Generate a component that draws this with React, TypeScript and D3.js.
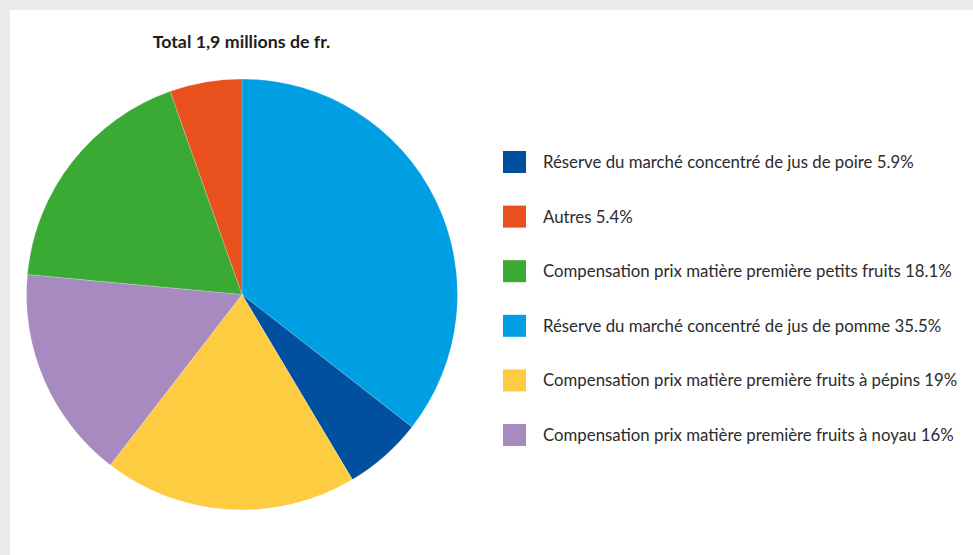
import React from "react";
import * as d3 from "d3";

const labels = [
  "Réserve du marché concentré de jus de poire 5.9%",
  "Autres 5.4%",
  "Compensation prix matière première petits fruits 18.1%",
  "Réserve du marché concentré de jus de pomme 35.5%",
  "Compensation prix matière première fruits à pépins 19%",
  "Compensation prix matière première fruits à noyau 16%",
];
const values = [5.9, 5.4, 18.1, 35.5, 19, 16];
const colors = ["#00509F", "#E8501E", "#3BAA35", "#009FE3", "#FDCC41", "#A68AC0"];
// order of slices clockwise from 12 o'clock (indices into the arrays above)
const pieOrder = [3, 0, 4, 5, 2, 1];
const title = "Total 1,9 millions de fr.";

const W = 973;
const H = 555;

export default function App() {
  const cx = 242;
  const cy = 294.5;
  const r = 215.5;
  const pie = d3.pie<number>().sort(null).value((i) => values[i]);
  const arcs = pie(pieOrder);
  const arc = d3.arc<d3.PieArcDatum<number>>().innerRadius(0).outerRadius(r);
  const legendY = d3.scalePoint<number>().domain(d3.range(labels.length)).range([162, 435]);

  return (
    <svg
      width={W}
      height={H}
      style={{ position: "absolute", left: 0, top: 0, display: "block" }}
    >
      <rect x={0} y={0} width={W} height={H} fill="#EBEBEB" />
      <rect x={10} y={10} width={W - 10} height={H - 10} fill="#FFFFFF" />
      <text
        x={241.5}
        y={48}
        textAnchor="middle"
        fontFamily="Lato, 'Open Sans', sans-serif"
        fontWeight="bold"
        fontSize={17.8}
        fill="#1E1E1E"
      >
        {title}
      </text>
      <g transform={`translate(${cx},${cy})`}>
        {arcs.map((a) => (
          <path key={a.data} d={arc(a) || ""} fill={colors[a.data]} stroke="#FFFFFF" strokeWidth={0.2} />
        ))}
      </g>
      <g>
        {labels.map((l, i) => (
          <g key={l} transform={`translate(0,${legendY(i)})`}>
            <rect x={503} y={-11} width={23} height={22} fill={colors[i]} />
            <text
              x={543}
              y={6}
              fontFamily="Lato, 'Open Sans', sans-serif"
              fontSize={16.8}
              fill="#2B2B2B"
            >
              {l}
            </text>
          </g>
        ))}
      </g>
    </svg>
  );
}
